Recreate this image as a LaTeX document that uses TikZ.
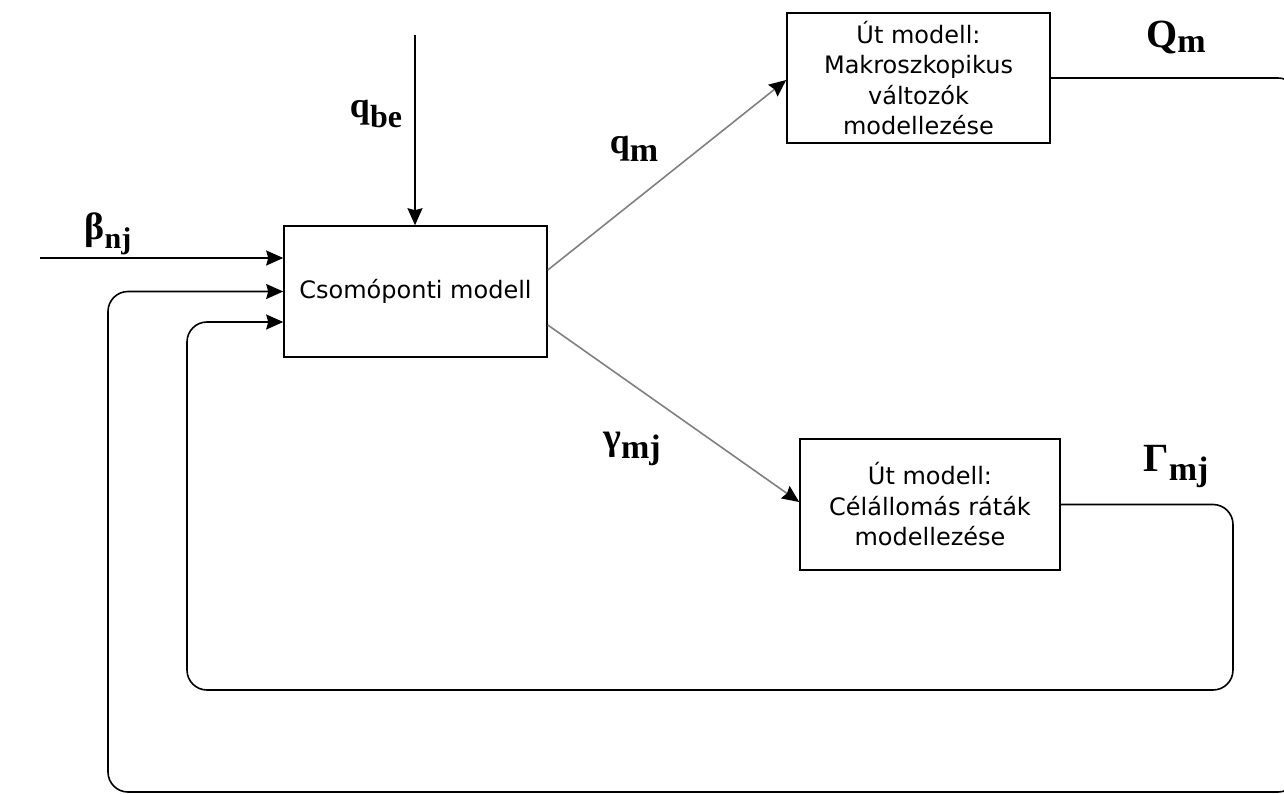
\documentclass[tikz,border=0pt]{standalone}
\usepackage{fontspec}
\setmainfont{DejaVu Sans}
\newfontfamily\lblfont{Liberation Serif}
\usetikzlibrary{arrows.meta,calc}
\newcommand\mylab[5]{{\lblfont\bfseries\fontsize{#3}{#3}\selectfont #1}{\lblfont\bfseries\raisebox{-#5pt}{\fontsize{#4}{#4}\selectfont #2}}}
\begin{document}
\begin{tikzpicture}[x=1pt,y=-1pt,
  box/.style={draw, line width=1.6pt, inner sep=0pt, align=center,
    font=\fontsize{24}{30.5}\selectfont},
  conn/.style={line width=1.6pt, -{Stealth[length=17pt,width=15pt,inset=2pt]}},
  gconn/.style={line width=1.6pt, draw=black!50, -{Stealth[length=17pt,width=15pt,inset=2pt,color=black]}},
  lbl/.style={inner sep=0pt}]
\useasboundingbox (0,0) rectangle (1284,794);
\clip (0,0) rectangle (1284,794);

\node[box, minimum width=263pt, minimum height=131pt] (cs) at (415.5,291.5) {Csomóponti modell};
\node[box, minimum width=263pt, minimum height=130pt] (mak) at (918.5,78) {Út modell:\\Makroszkopikus\\változók\\modellezése};
\node[box, minimum width=260pt, minimum height=131pt] (cel) at (930,504.5) {Út modell:\\Célállomás ráták\\modellezése};

\coordinate (bstart) at (40,258);
\coordinate (qtop) at (415,35);
\draw[conn] (bstart) -- (cs.west |- bstart);
\draw[conn] (qtop) -- (qtop |- cs.north);
\draw[gconn] ($(cs.east)+(0,-21.5)$) -- ($(mak.west)+(0,2)$);
\draw[gconn] ($(cs.east)+(0,33.5)$) -- ($(cel.west)+(0,-2.5)$);

\draw[conn, rounded corners=20pt] (mak.east) -- (1298,78) -- (1298,792) -- (108,792) -- (108,291.5) -- (cs.west);
\draw[conn, rounded corners=20pt] (cel.east) -- (1233,504.5) -- (1233,690) -- (187,690) -- (187,322) -- ($(cs.west)+(0,30.5)$);

\node[lbl] (lb) at (108,234) {\mylab{β}{nj}{38}{30}{9}};
\node[lbl] (lqbe) at (376,114) {\mylab{q}{be}{36}{32}{10}};
\node[lbl] (lqm) at (634,149) {\mylab{q}{m}{36}{34}{8}};
\node[lbl] (lg) at (632,449) {\mylab{γ}{mj}{38}{34}{9}};
\node[lbl] (lQ) at (1176,38) {\mylab{Q}{m}{40}{34}{5}};
\node[lbl] (lG) at (1176,467) {\mylab{Γ}{mj}{40}{34}{9}};
\end{tikzpicture}
\end{document}
